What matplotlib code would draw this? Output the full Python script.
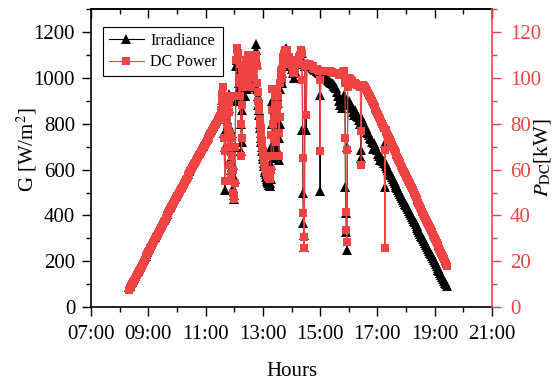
import matplotlib
matplotlib.use('Agg')
import matplotlib.pyplot as plt
from matplotlib.ticker import MultipleLocator

plt.rcParams['font.family'] = ['Liberation Serif', 'DejaVu Serif']
plt.rcParams['mathtext.fontset'] = 'stix'

RED = '#f04343'

# sample times (HH:MM)
times = [
    # morning ramp
    "08:20", "08:22", "08:24", "08:26", "08:28", "08:30", "08:32", "08:34", "08:36", "08:38",
    "08:40", "08:42", "08:44", "08:46", "08:48", "08:50", "08:52", "08:54", "08:56", "08:58",
    "09:00", "09:02", "09:04", "09:06", "09:08", "09:10", "09:12", "09:14", "09:16", "09:18",
    "09:20", "09:22", "09:24", "09:26", "09:28", "09:30", "09:32", "09:34", "09:36", "09:38",
    "09:40", "09:42", "09:44", "09:46", "09:48", "09:50", "09:52", "09:54", "09:56", "09:58",
    "10:00", "10:02", "10:04", "10:06", "10:08", "10:10", "10:12", "10:14", "10:16", "10:18",
    "10:20", "10:22", "10:24", "10:26", "10:28", "10:30", "10:32", "10:34", "10:36", "10:38",
    "10:40", "10:42", "10:44", "10:46", "10:48", "10:50", "10:52", "10:54", "10:56", "10:58",
    "11:00", "11:02", "11:04", "11:06", "11:08", "11:10", "11:12", "11:14", "11:16", "11:18",
    "11:20", "11:22", "11:24", "11:26", "11:28", "11:30",
    # cloudy midday
    "11:31", "11:32", "11:33", "11:34", "11:35", "11:36", "11:37", "11:38", "11:39",
    "11:40", "11:41", "11:42", "11:43", "11:44", "11:45", "11:46", "11:47", "11:48", "11:49",
    "11:50", "11:51", "11:52", "11:53", "11:54", "11:55", "11:56", "11:57", "11:58", "11:59",
    "12:00", "12:01", "12:02", "12:03", "12:04", "12:05", "12:06", "12:07", "12:08", "12:09",
    "12:10", "12:11", "12:12", "12:13", "12:14", "12:15", "12:16", "12:17", "12:18", "12:19",
    "12:20", "12:21", "12:22", "12:23", "12:24", "12:25", "12:26", "12:27", "12:28", "12:29",
    "12:30", "12:31", "12:32", "12:33", "12:34", "12:35", "12:36", "12:37", "12:38", "12:39",
    "12:40", "12:41", "12:42", "12:43", "12:44", "12:45", "12:46", "12:47", "12:48", "12:49",
    "12:50", "12:51", "12:52", "12:53", "12:54", "12:55", "12:56", "12:57", "12:58", "12:59",
    "13:00", "13:01", "13:02", "13:03", "13:04", "13:05", "13:06", "13:07", "13:08", "13:09",
    "13:10", "13:11", "13:12", "13:13", "13:14", "13:15", "13:16", "13:17", "13:18", "13:19",
    "13:20", "13:21", "13:22", "13:23", "13:24", "13:25", "13:26", "13:27", "13:28", "13:29",
    "13:30", "13:31", "13:32", "13:33", "13:34", "13:35", "13:36", "13:37", "13:38", "13:39",
    "13:40", "13:41", "13:42", "13:43", "13:44", "13:45", "13:46", "13:47", "13:48", "13:49",
    "13:50", "13:51", "13:52", "13:53", "13:54", "13:55", "13:56", "13:57", "13:58", "13:59",
    "14:00",
    # early afternoon
    "14:02", "14:04", "14:06", "14:08", "14:10", "14:12", "14:14", "14:16", "14:18", "14:20",
    "14:22", "14:23", "14:24", "14:25", "14:26", "14:27", "14:28", "14:30", "14:31",
    "14:32", "14:34", "14:36", "14:38", "14:40", "14:42", "14:44", "14:46", "14:48", "14:50",
    "14:52", "14:54", "14:56", "14:58", "14:59", "15:00", "15:01", "15:02", "15:04", "15:06",
    "15:08", "15:10", "15:12", "15:14", "15:16", "15:18", "15:20", "15:22", "15:24", "15:26",
    "15:28", "15:30", "15:32", "15:34", "15:36", "15:38", "15:40", "15:42", "15:44", "15:46",
    "15:48", "15:50", "15:52", "15:53", "15:54", "15:55", "15:56", "15:57", "15:58", "16:00",
    "16:02", "16:04", "16:06", "16:08", "16:10", "16:12", "16:14", "16:16", "16:18", "16:20",
    "16:22", "16:24", "16:25", "16:26", "16:27", "16:28", "16:30", "16:32", "16:34", "16:36",
    "16:38", "16:40", "16:42", "16:44", "16:46", "16:48", "16:50", "16:52", "16:54", "16:56",
    "16:58", "17:00", "17:02", "17:04", "17:06", "17:08", "17:10", "17:12", "17:14", "17:15",
    "17:16", "17:17", "17:18",
    # evening decline
    "17:20", "17:22", "17:24", "17:26", "17:28", "17:30", "17:32", "17:34", "17:36", "17:38",
    "17:40", "17:42", "17:44", "17:46", "17:48", "17:50", "17:52", "17:54", "17:56", "17:58",
    "18:00", "18:02", "18:04", "18:06", "18:08", "18:10", "18:12", "18:14", "18:16", "18:18",
    "18:20", "18:22", "18:24", "18:26", "18:28", "18:30", "18:32", "18:34", "18:36", "18:38",
    "18:40", "18:42", "18:44", "18:46", "18:48", "18:50", "18:52", "18:54", "18:56", "18:58",
    "19:00", "19:02", "19:04", "19:06", "19:08", "19:10", "19:12", "19:14", "19:16", "19:18",
    "19:20", "19:22", "19:24", "19:26",
]

# G [W/m2]
irradiance = [
    87, 94, 104, 111, 120, 127, 136, 143, 152, 159,
    168, 175, 185, 192, 201, 209, 218, 225, 234, 242,
    252, 259, 268, 275, 284, 292, 301, 308, 317, 324,
    333, 341, 350, 357, 366, 374, 382, 390, 399, 406,
    415, 422, 431, 439, 448, 455, 464, 471, 480, 487,
    495, 503, 511, 518, 527, 534, 542, 550, 558, 565,
    573, 581, 589, 596, 605, 612, 620, 627, 636, 643,
    651, 658, 667, 674, 682, 689, 698, 705, 713, 720,
    728, 735, 743, 750, 759, 766, 774, 781, 790, 797,
    805, 812, 821, 828, 836, 843,
    843, 840, 860, 880, 905, 930, 910, 880, 760,
    510, 700, 850, 880, 900, 820, 700, 800, 870, 900,
    930, 780, 640, 600, 560, 680, 760, 620, 520, 490,
    470, 560, 700, 900, 1050, 1090, 1080, 1070, 1060, 980,
    900, 960, 1030, 900, 800, 680, 720, 860, 980, 1010,
    1040, 980, 920, 1000, 1060, 1010, 950, 1020, 1080, 1070,
    1090, 1040, 1000, 1040, 1070, 1010, 960, 1000, 1050, 1020,
    1000, 1060, 1100, 1090, 1080, 1120, 1150, 1060, 950, 920,
    880, 860, 840, 800, 780, 760, 740, 720, 700, 680,
    660, 645, 630, 615, 600, 590, 580, 570, 560, 550,
    545, 540, 535, 532, 530, 540, 560, 620, 700, 800,
    900, 760, 650, 720, 800, 860, 900, 800, 700, 820,
    920, 890, 850, 740, 640, 800, 950, 980, 1000, 990,
    980, 1020, 1050, 1070, 1080, 1090, 1100, 1120, 1130, 1125,
    1120, 1090, 1060, 1070, 1080, 1065, 1050, 1060, 1070, 1055,
    1040,
    1050, 1020, 1000, 1030, 1060, 1080, 1060, 1090, 1100, 1120,
    1110, 772, 497, 366, 314, 262, 1050, 1060, 772,
    1060, 1062, 1058, 1055, 1052, 1050, 1046, 1042, 1040, 1036,
    1033, 1030, 1026, 1020, 925, 505, 1012, 1010, 1008, 1005,
    1002, 1000, 996, 994, 990, 986, 984, 980, 976, 972,
    968, 965, 960, 956, 940, 920, 900, 880, 890, 870,
    910, 925, 900, 524, 410, 327, 249, 700, 880, 900,
    890, 880, 870, 850, 840, 855, 860, 845, 835, 830,
    815, 800, 685, 650, 820, 810, 800, 795, 790, 780,
    765, 760, 750, 740, 735, 720, 690, 715, 705, 695,
    690, 685, 670, 660, 640, 655, 648, 638, 630, 524,
    715, 625, 615,
    608, 600, 592, 583, 575, 567, 559, 551, 542, 534,
    526, 518, 509, 501, 493, 485, 477, 468, 460, 452,
    444, 435, 427, 419, 411, 403, 394, 386, 378, 370,
    362, 353, 345, 337, 329, 321, 312, 304, 296, 288,
    279, 271, 263, 255, 247, 238, 230, 222, 214, 206,
    197, 189, 181, 173, 164, 156, 148, 140, 132, 123,
    115, 107, 99, 92,
]

# P_DC [kW]
dc_power = [
    7.5, 8.2, 9.2, 9.9, 10.8, 11.5, 12.4, 13.1, 14.0, 14.7,
    15.6, 16.3, 17.3, 18.0, 18.9, 19.7, 20.6, 21.3, 22.2, 23.0,
    24.0, 24.7, 25.6, 26.3, 27.2, 28.0, 28.9, 29.6, 30.5, 31.2,
    32.1, 32.9, 33.8, 34.5, 35.4, 36.2, 37.0, 37.8, 38.7, 39.4,
    40.3, 41.0, 41.9, 42.7, 43.6, 44.3, 45.2, 45.9, 46.8, 47.5,
    48.3, 49.1, 49.9, 50.6, 51.5, 52.2, 53.0, 53.8, 54.6, 55.3,
    56.1, 56.9, 57.7, 58.4, 59.3, 60.0, 60.8, 61.5, 62.4, 63.1,
    63.9, 64.6, 65.5, 66.2, 67.0, 67.7, 68.6, 69.3, 70.1, 70.8,
    71.6, 72.3, 73.1, 73.8, 74.7, 75.4, 76.2, 76.9, 77.8, 78.5,
    79.3, 80.0, 80.9, 81.6, 82.4, 83.1,
    83.5, 83, 86, 90, 93, 96, 92, 88, 74,
    55, 68, 84, 86, 88, 80, 70, 78, 85, 89,
    92, 76, 62, 58, 55, 66, 74, 60, 50, 48,
    47, 54, 70, 92, 108, 113, 112, 111, 110, 100,
    92, 98, 106, 92, 80, 66, 74, 88, 100, 104,
    106, 100, 96, 103, 108, 104, 98, 105, 110, 109,
    110, 106, 102, 105, 108, 102, 96, 100, 104, 102,
    100, 105, 108, 107, 106, 109, 110, 105, 98, 94,
    90, 88, 86, 82, 80, 78, 76, 74, 72, 70,
    68, 66, 64, 63, 62, 61, 60, 59, 58, 57.5,
    57, 57, 57, 56.5, 56, 57, 60, 66, 75, 86,
    95, 80, 66, 74, 82, 88, 92, 82, 72, 85,
    95, 92, 88, 76, 66, 83, 98, 101, 103, 102,
    100, 104, 107, 109, 110, 110.5, 111, 112, 112, 112,
    112, 110, 108, 108.5, 109, 107.5, 106, 106.5, 107, 106,
    105,
    106, 103, 102, 104, 107, 108, 106, 109, 110, 112,
    111, 99, 65, 41, 30.5, 26, 105, 106, 84,
    106, 106, 106, 105.5, 105, 105, 105, 104.5, 104, 104,
    104, 104, 103.5, 103, 99, 68, 103, 103, 103, 103,
    103, 103, 103, 103, 103, 103, 103, 102.5, 102.5, 102,
    102, 102, 102, 102, 102, 102, 101.5, 101.5, 102, 102,
    102.5, 103, 98, 74, 41.5, 33.6, 28.4, 68.5, 96, 100,
    99.5, 99, 98.5, 98, 98, 98, 98, 97.5, 97, 97,
    96.5, 96, 77, 62, 96, 97, 97, 96.5, 96, 95,
    94.5, 93.5, 92.5, 91.5, 90.8, 90, 89, 88.2, 87.5, 86.5,
    85.5, 84.6, 83.7, 82.8, 82, 81, 80, 79, 78, 68.5,
    26, 77.5, 76.5,
    75.5, 74.6, 73.7, 72.8, 71.9, 70.9, 70.0, 69.1, 68.2, 67.3,
    66.4, 65.5, 64.6, 63.6, 62.7, 61.8, 60.9, 60.0, 59.1, 58.2,
    57.3, 56.3, 55.4, 54.5, 53.6, 52.7, 51.8, 50.9, 50.0, 49.0,
    48.1, 47.2, 46.3, 45.4, 44.5, 43.6, 42.7, 41.7, 40.8, 39.9,
    39.0, 38.1, 37.2, 36.3, 35.4, 34.4, 33.5, 32.6, 31.7, 30.8,
    29.9, 29.0, 28.1, 27.1, 26.2, 25.3, 24.4, 23.5, 22.6, 21.7,
    20.8, 19.8, 18.9, 18.0,
]

hour_ticks = [7, 9, 11, 13, 15, 17, 19, 21]
hour_labels = [f'{h:02d}:00' for h in hour_ticks]


def to_hours(s):
    h, m = s.split(':')
    return int(h) + int(m) / 60.0


t = [to_hours(s) for s in times]

fig = plt.figure(figsize=(5.59, 3.83), dpi=100)
ax = fig.add_axes([0.163, 0.198, 0.717, 0.778])
ax2 = ax.twinx()

l1, = ax.plot(t, irradiance, '-^', color='black', ms=6.5, mew=0, lw=0.8)
l2, = ax2.plot(t, dc_power, '-s', color=RED, ms=5.8, mew=0, lw=0.8)

# x axis
ax.set_xlim(7, 21)
ax.set_xticks(hour_ticks)
ax.set_xticklabels(hour_labels)
ax.xaxis.set_minor_locator(MultipleLocator(1))
top = ax.secondary_xaxis('top')
top.set_xticks(hour_ticks)
top.set_xticklabels([])
top.xaxis.set_minor_locator(MultipleLocator(1))
top.tick_params(which='both', direction='in', width=1)
top.tick_params(which='major', length=6.5)
top.tick_params(which='minor', length=3.5)

# left axis
ax.set_ylim(0, 1300)
ax.set_yticks(range(0, 1201, 200))
ax.yaxis.set_minor_locator(MultipleLocator(100))

# right axis
ax2.set_ylim(0, 130)
ax2.set_yticks(range(0, 121, 20))
ax2.yaxis.set_minor_locator(MultipleLocator(10))

ax.tick_params(which='both', direction='out', width=1, labelsize=15)
ax.tick_params(axis='x', pad=6)
ax.tick_params(axis='y', pad=5)
ax.tick_params(which='major', length=6.5)
ax.tick_params(which='minor', length=3.5)
ax2.tick_params(which='both', direction='out', width=1, labelsize=15,
                colors=RED, pad=6.5)
ax2.tick_params(which='major', length=6.5)
ax2.tick_params(which='minor', length=3.5)

for sp in ax.spines.values():
    sp.set_linewidth(1.2)
ax.spines['right'].set_visible(False)
for k in ('left', 'top', 'bottom'):
    ax2.spines[k].set_visible(False)
ax2.spines['right'].set_color(RED)
ax2.spines['right'].set_linewidth(1.2)
top.spines['top'].set_linewidth(1.2)

ax.set_xlabel('Hours', fontsize=15)
ax.xaxis.set_label_coords(0.5, -0.185)
ax.set_ylabel('G [W/m$^2$]', fontsize=15)
ax.yaxis.set_label_coords(-0.13, 0.53)
ax2.set_ylabel(r'$P_{\mathrm{DC}}$[kW]', fontsize=15)
ax2.yaxis.set_label_coords(1.10, 0.5)

leg = ax2.legend([l1, l2], ['Irradiance', 'DC Power'], loc='upper left',
                 bbox_to_anchor=(0.03, 0.94), borderaxespad=0, fontsize=11.5,
                 fancybox=False, edgecolor='black', framealpha=1,
                 handlelength=2.2, borderpad=0.35, labelspacing=0.35,
                 handletextpad=0.4)
leg.get_frame().set_linewidth(0.8)

fig.savefig('out.png', dpi=100)
